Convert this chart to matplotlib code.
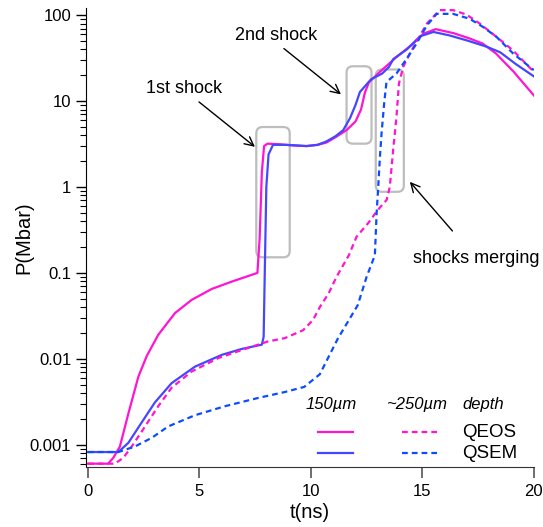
import numpy as np
import matplotlib.pyplot as plt
from matplotlib.patches import FancyBboxPatch

plt.rcParams['font.family'] = ['Liberation Sans', 'DejaVu Sans']

# =====================================
# DADOS
# =====================================

# QEOS, 150um
t_qeos150 = [0, 0.9, 1.13, 1.43, 1.81, 2.26, 2.63, 3.15, 3.9, 4.65, 5.55, 6.44, 7.6, 7.7,
             7.8, 7.9, 8.05, 8.6, 9.2, 9.8, 10.3, 10.7, 11.1, 11.6, 12.0, 12.25, 12.42,
             12.6, 13.1, 13.8, 14.6, 15.04, 15.6, 16.4, 17.1, 17.7, 18.3, 19.1, 20]
p_qeos150 = [0.0006, 0.0006, 0.0007, 0.00095, 0.0023, 0.0062, 0.0107, 0.019, 0.034, 0.0485,
             0.065, 0.079, 0.1, 0.25, 1.5, 3.0, 3.2, 3.15, 3.05, 3.0, 3.1, 3.3, 3.8, 4.6,
             5.8, 8.0, 12.5, 16.5, 22, 32, 47, 61, 69, 62, 54, 47, 36, 22, 11.7]

# QSEM, 150um
t_qsem150 = [0, 1.36, 1.81, 2.4, 3.0, 3.75, 4.8, 6.0, 6.89, 7.8, 7.88, 7.93, 8.0, 8.1,
             8.3, 8.9, 9.4, 9.8, 10.3, 10.7, 11.1, 11.45, 11.75, 12.0, 12.2, 12.7, 13.2,
             13.5, 13.7, 14.3, 14.9, 15.5, 16.2, 17.0, 17.9, 18.5, 19.2, 20]
p_qsem150 = [0.00082, 0.00082, 0.00105, 0.0018, 0.0031, 0.0052, 0.0081, 0.0111, 0.013,
             0.0146, 0.018, 0.1, 1.0, 2.4, 3.1, 3.1, 3.05, 3.0, 3.1, 3.4, 3.9, 4.6, 6.3,
             9.0, 12.8, 18, 21, 25, 31, 40, 57, 64, 58.5, 51, 43, 37, 27, 19.5]

# QEOS, ~250um
t_qeos250 = [0, 1.2, 1.58, 1.96, 2.56, 3.15, 3.75, 4.65, 5.85, 7.04, 8.07, 8.83, 9.65,
             10.1, 10.4, 10.8, 11.15, 11.7, 12.05, 12.57, 13.0, 13.4, 13.54, 13.69, 13.84,
             13.95, 14.14, 14.44, 14.74, 15.2, 15.78, 16.38, 16.98, 17.58, 18.33, 19.07, 20]
p_qeos250 = [0.0006, 0.0006, 0.0007, 0.00095, 0.00163, 0.0028, 0.0046, 0.0071, 0.0102,
             0.013, 0.0159, 0.0174, 0.0215, 0.0284, 0.04, 0.058, 0.09, 0.16, 0.264, 0.38,
             0.54, 0.71, 1.0, 2.7, 6.6, 16, 25, 36, 49, 80, 115, 115, 102, 80, 56, 39, 22]

# QSEM, ~250um
t_qsem250 = [0, 1.36, 2.1, 2.86, 3.6, 4.8, 6.14, 7.64, 8.83, 9.7, 10.4, 11.2, 12.1, 12.5,
             12.87, 12.95, 13.02, 13.1, 13.17, 13.28, 13.39, 13.84, 14.36, 14.74, 15.2,
             15.64, 16.38, 17.13, 17.73, 18.33, 19.07, 20]
p_qsem250 = [0.00082, 0.00082, 0.00095, 0.0012, 0.00163, 0.0022, 0.0028, 0.0035, 0.0041,
             0.0047, 0.0066, 0.017, 0.042, 0.09, 0.16, 0.5, 1.0, 2.3, 4.2, 9.0, 16.7, 21,
             33, 47, 76, 104, 104, 91, 73, 56, 36, 23]

# caixas cinzas (t0, t1, P0, P1)
caixas = [(7.55, 9.05, 0.152, 5.0),
          (11.6, 12.72, 3.2, 25.5),
          (12.91, 14.17, 0.88, 23.4)]

xmin, xmax = -0.1, 20
ymin, ymax = 0.00055, 122

# =====================================
# FIGURA
# =====================================

fig = plt.figure(figsize=(5.43, 5.27), dpi=100)
ax = fig.add_axes([0.158, 0.114, 0.825, 0.871])

mag = '#ff14d2'
azul = '#4646ff'
azul2 = '#0c4cff'

ax.plot(t_qeos150, p_qeos150, color=mag, lw=1.6)
ax.plot(t_qsem150, p_qsem150, color=azul, lw=1.6)
ax.plot(t_qeos250, p_qeos250, color=mag, lw=1.6, dashes=(2.6, 1.8))
ax.plot(t_qsem250, p_qsem250, color=azul2, lw=1.6, dashes=(2.6, 1.8))

ax.set_yscale('log')
ax.set_xlim(xmin, xmax)
ax.set_ylim(ymin, ymax)

# caixas arredondadas (em coordenadas do eixo)
ly0, ly1 = np.log10(ymin), np.log10(ymax)
for t0, t1, p0, p1 in caixas:
    fx0 = (t0 - xmin) / (xmax - xmin)
    fx1 = (t1 - xmin) / (xmax - xmin)
    fy0 = (np.log10(p0) - ly0) / (ly1 - ly0)
    fy1 = (np.log10(p1) - ly0) / (ly1 - ly0)
    box = FancyBboxPatch((fx0, fy0), fx1 - fx0, fy1 - fy0,
                         boxstyle='round,pad=0,rounding_size=0.014',
                         transform=ax.transAxes, fill=False,
                         edgecolor='#bdbdbd', lw=1.6, zorder=1)
    ax.add_patch(box)

# =====================================
# ANOTAÇÕES
# =====================================

seta = dict(arrowstyle='->', color='black', lw=1.0, mutation_scale=16,
            shrinkA=0, shrinkB=0)
ax.text(4.3, 14.2, '1st shock', fontsize=13, ha='center', va='center')
ax.annotate('', xy=(7.49, 2.94), xytext=(4.98, 9.8), arrowprops=seta)
ax.text(8.43, 58.5, '2nd shock', fontsize=13, ha='center', va='center')
ax.annotate('', xy=(11.35, 12.0), xytext=(8.79, 41), arrowprops=seta)
ax.text(17.4, 0.148, 'shocks merging', fontsize=13, ha='center', va='center')
ax.annotate('', xy=(14.44, 1.15), xytext=(16.35, 0.308), arrowprops=seta)

# =====================================
# LEGENDA
# =====================================

ax.text(0.548, 0.135, '150µm', style='italic', fontsize=12, ha='center',
        va='center', transform=ax.transAxes)
ax.text(0.738, 0.135, '~250µm', style='italic', fontsize=12, ha='center',
        va='center', transform=ax.transAxes)
ax.text(0.887, 0.135, 'depth', style='italic', fontsize=12, ha='center',
        va='center', transform=ax.transAxes)
ax.plot([0.519, 0.597], [0.0756, 0.0756], color=mag, lw=1.6, transform=ax.transAxes)
ax.plot([0.519, 0.597], [0.0298, 0.0298], color=azul, lw=1.6, transform=ax.transAxes)
ax.plot([0.705, 0.783], [0.0756, 0.0756], color=mag, lw=1.6, dashes=(2.6, 1.8),
        transform=ax.transAxes)
ax.plot([0.705, 0.783], [0.0298, 0.0298], color=azul2, lw=1.6, dashes=(2.6, 1.8),
        transform=ax.transAxes)
ax.text(0.841, 0.0756, 'QEOS', fontsize=13.5, ha='left', va='center',
        transform=ax.transAxes)
ax.text(0.841, 0.0298, 'QSEM', fontsize=13.5, ha='left', va='center',
        transform=ax.transAxes)

# =====================================
# AJUSTES
# =====================================

ax.spines['top'].set_visible(False)
ax.spines['right'].set_visible(False)
ax.spines['bottom'].set_color('#333333')

ax.set_xticks([0, 5, 10, 15, 20])
ax.set_yticks([0.001, 0.01, 0.1, 1, 10, 100])
ax.set_yticklabels(['0.001', '0.01', '0.1', '1', '10', '100'])
ax.tick_params(axis='x', which='major', length=8, width=1.2, color='#555555',
               labelsize=12, pad=4)
ax.tick_params(axis='x', which='minor', length=0)
ax.tick_params(axis='y', which='major', length=7.5, width=1, labelsize=12, pad=3)
ax.tick_params(axis='y', which='minor', length=4, width=0.8)

ax.set_xlabel('t(ns)', fontsize=14.5)
ax.set_ylabel('P(Mbar)', fontsize=14.5)
ax.xaxis.set_label_coords(0.5, -0.078)
ax.yaxis.set_label_coords(-0.118, 0.5)

plt.savefig('out.png', dpi=100)
